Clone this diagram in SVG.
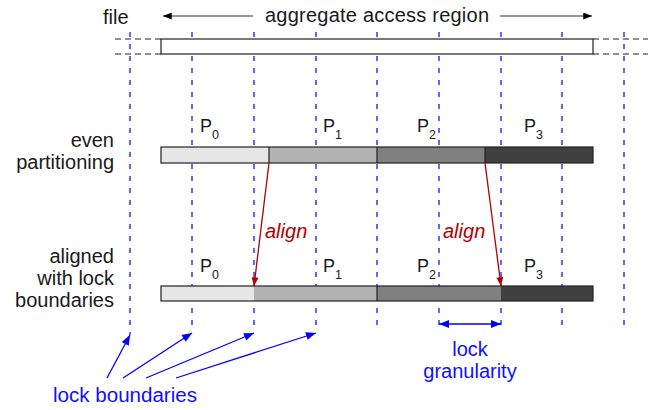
<svg xmlns="http://www.w3.org/2000/svg" width="657" height="410" viewBox="0 0 657 410">
<defs>
<style>
.t{font-family:"Liberation Sans",Arial,sans-serif;font-size:20px;fill:#1a1a1a}
.p{font-family:"Liberation Sans",Arial,sans-serif;font-size:18px;fill:#1a1a1a}
.s{font-size:12.5px}
.b{fill:#1010ff}
.r{fill:#b00000;font-style:italic}
.lock{stroke:#0000ff;stroke-width:1.2;stroke-dasharray:5 7;fill:none}
.bar{stroke:#222;stroke-width:1.2}
</style>
<marker id="ak" viewBox="0 0 10 8" refX="10" refY="4" markerWidth="13" markerHeight="7" markerUnits="userSpaceOnUse" orient="auto"><path d="M0,0 L10,4 L0,8 Z" fill="#000"/></marker>
<marker id="ar" viewBox="0 0 10 8" refX="10" refY="4" markerWidth="12" markerHeight="7" markerUnits="userSpaceOnUse" orient="auto"><path d="M0,0 L10,4 L0,8 Z" fill="#b00000"/></marker>
<marker id="ab" viewBox="0 0 10 8" refX="10" refY="4" markerWidth="13" markerHeight="8" markerUnits="userSpaceOnUse" orient="auto"><path d="M0,0 L10,4 L0,8 Z" fill="#0000ff"/></marker>
</defs>

<g id="lock-lines">
<line class="lock" x1="130" y1="32" x2="130" y2="335"/>
<line class="lock" x1="192" y1="32" x2="192" y2="332"/>
<line class="lock" x1="254" y1="32" x2="254" y2="332"/>
<line class="lock" x1="316" y1="32" x2="316" y2="332"/>
<line class="lock" x1="377" y1="32" x2="377" y2="332"/>
<line class="lock" x1="439" y1="32" x2="439" y2="332"/>
<line class="lock" x1="501" y1="32" x2="501" y2="332"/>
<line class="lock" x1="562" y1="32" x2="562" y2="332"/>
<line class="lock" x1="624" y1="32" x2="624" y2="332"/>
</g>

<g id="file">
<text class="t" x="103" y="24">file</text>
<line x1="115" y1="39" x2="161" y2="39" stroke="#222" stroke-width="1.2" stroke-dasharray="6 4"/>
<line x1="115" y1="54" x2="161" y2="54" stroke="#222" stroke-width="1.2" stroke-dasharray="6 4"/>
<line x1="593" y1="39" x2="648" y2="39" stroke="#222" stroke-width="1.2" stroke-dasharray="6 4"/>
<line x1="593" y1="54" x2="648" y2="54" stroke="#222" stroke-width="1.2" stroke-dasharray="6 4"/>
<rect x="161" y="39" width="432" height="15" fill="#fff" class="bar"/>
</g>

<g id="aggregate">
<text class="t" x="265" y="22" textLength="224" lengthAdjust="spacing">aggregate access region</text>
</g>

<g id="even">
<text class="t" x="114" y="147" text-anchor="end">even</text>
<text class="t" x="114" y="169" text-anchor="end">partitioning</text>
<rect x="161" y="147" width="108" height="16" fill="#e6e6e6"/>
<rect x="269" y="147" width="108" height="16" fill="#b3b3b3"/>
<rect x="377" y="147" width="108" height="16" fill="#808080"/>
<rect x="485" y="147" width="108" height="16" fill="#404040"/>
<rect x="161" y="147" width="432" height="16" fill="none" class="bar"/>
<line x1="269" y1="147" x2="269" y2="163" class="bar"/>
<line x1="377" y1="147" x2="377" y2="163" class="bar"/>
<line x1="485" y1="147" x2="485" y2="163" class="bar"/>
<text class="p" x="200" y="132">P<tspan class="s" dy="7">0</tspan></text>
<text class="p" x="323" y="132">P<tspan class="s" dy="7">1</tspan></text>
<text class="p" x="417" y="132">P<tspan class="s" dy="7">2</tspan></text>
<text class="p" x="524" y="132">P<tspan class="s" dy="7">3</tspan></text>
</g>

<g id="aligned">
<text class="t" x="114" y="263" text-anchor="end">aligned</text>
<text class="t" x="114" y="285" text-anchor="end">with lock</text>
<text class="t" x="114" y="307" text-anchor="end">boundaries</text>
<rect x="161" y="286" width="93" height="15" fill="#e6e6e6"/>
<rect x="254" y="286" width="123" height="15" fill="#b3b3b3"/>
<rect x="377" y="286" width="124" height="15" fill="#808080"/>
<rect x="501" y="286" width="92" height="15" fill="#404040"/>
<rect x="161" y="286" width="432" height="15" fill="none" class="bar"/>
<line x1="377" y1="286" x2="377" y2="301" class="bar"/>
<text class="p" x="200" y="272">P<tspan class="s" dy="7">0</tspan></text>
<text class="p" x="323" y="272">P<tspan class="s" dy="7">1</tspan></text>
<text class="p" x="417" y="272">P<tspan class="s" dy="7">2</tspan></text>
<text class="p" x="524" y="272">P<tspan class="s" dy="7">3</tspan></text>
</g>

<g id="labels">
<text class="t r" x="265" y="238">align</text>
<text class="t r" x="443" y="238">align</text>
<text class="t b" x="470" y="356" text-anchor="middle">lock</text>
<text class="t b" x="470" y="378" text-anchor="middle">granularity</text>
<text class="t b" x="53" y="402" textLength="144" lengthAdjust="spacingAndGlyphs">lock boundaries</text>
</g>

<g id="connectors">
<line x1="253" y1="16" x2="163" y2="16" stroke="#333" stroke-width="1.2" marker-end="url(#ak)"/>
<line x1="500" y1="16" x2="592" y2="16" stroke="#333" stroke-width="1.2" marker-end="url(#ak)"/>
<line x1="269" y1="163" x2="254" y2="286" stroke="#b00000" stroke-width="1.3" marker-end="url(#ar)"/>
<line x1="485" y1="163" x2="501" y2="286" stroke="#b00000" stroke-width="1.3" marker-end="url(#ar)"/>
<line x1="450" y1="324" x2="439" y2="324" stroke="#0000ff" stroke-width="1.3" marker-end="url(#ab)"/>
<line x1="450" y1="324" x2="501" y2="324" stroke="#0000ff" stroke-width="1.3" marker-end="url(#ab)"/>
<line x1="107" y1="378" x2="130" y2="335" stroke="#0000ff" stroke-width="1.3" marker-end="url(#ab)"/>
<line x1="123" y1="378" x2="192" y2="333" stroke="#0000ff" stroke-width="1.3" marker-end="url(#ab)"/>
<line x1="146" y1="378" x2="254" y2="333" stroke="#0000ff" stroke-width="1.3" marker-end="url(#ab)"/>
<line x1="176" y1="378" x2="316" y2="333" stroke="#0000ff" stroke-width="1.3" marker-end="url(#ab)"/>
</g>
</svg>
